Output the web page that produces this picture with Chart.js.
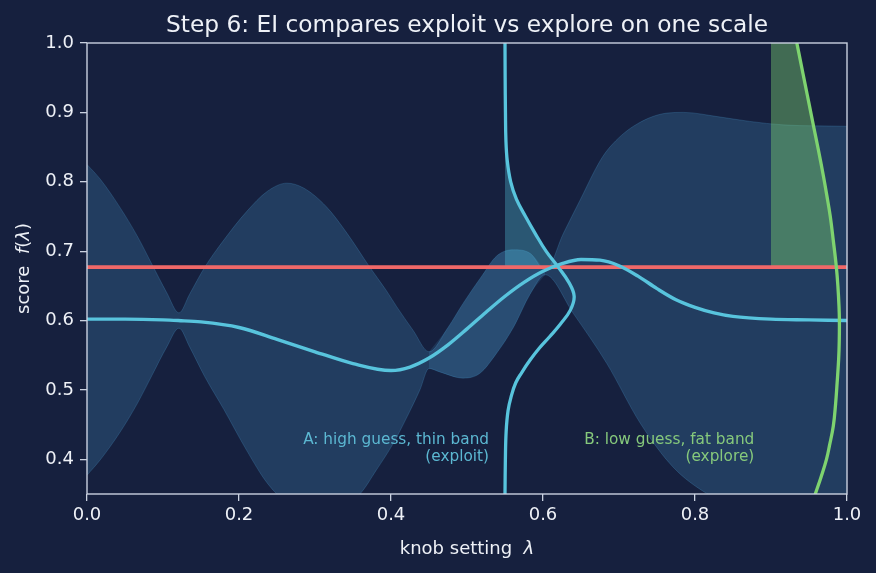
<!DOCTYPE html>
<html>
<head>
<meta charset="utf-8">
<script src="https://cdn.jsdelivr.net/npm/chart.js@4/dist/chart.umd.min.js"></script>
<style>
  html, body { margin: 0; padding: 0; background: #16203e; }
  #wrap { width: 876px; height: 573px; }
</style>
</head>
<body>
<div id="wrap"><canvas id="chart" width="876" height="573"></canvas></div>
<script>
// values
const xTicks = [0, 0.2, 0.4, 0.6, 0.8, 1.0];
const yTicks = [0.4, 0.5, 0.6, 0.7, 0.8, 0.9, 1.0];

const meanX = [0, 0.05, 0.10, 0.12, 0.15, 0.20, 0.25, 0.30, 0.35, 0.40, 0.425, 0.45, 0.475, 0.50, 0.525, 0.55, 0.575, 0.60, 0.625, 0.65, 0.675, 0.70, 0.725, 0.75, 0.775, 0.80, 0.825, 0.85, 0.90, 0.95, 1.0];
const meanY = [0.602, 0.602, 0.601, 0.600, 0.598, 0.590, 0.573, 0.555, 0.538, 0.528, 0.533, 0.546, 0.565, 0.588, 0.612, 0.635, 0.655, 0.671, 0.682, 0.688, 0.687, 0.679, 0.664, 0.646, 0.630, 0.619, 0.611, 0.606, 0.602, 0.601, 0.600];

const upperX = [0, 0.018, 0.044, 0.066, 0.0855, 0.105, 0.121, 0.135, 0.155, 0.18, 0.21, 0.237, 0.263, 0.285, 0.315, 0.342, 0.372, 0.394, 0.4075, 0.429, 0.45, 0.475, 0.495, 0.52, 0.539, 0.561, 0.583, 0.603, 0.627, 0.649, 0.675, 0.688, 0.719, 0.763, 0.785, 0.829, 0.872, 0.916, 1.0];
const upperY = [0.825, 0.803, 0.762, 0.722, 0.681, 0.640, 0.611, 0.638, 0.677, 0.716, 0.757, 0.786, 0.798, 0.791, 0.764, 0.726, 0.677, 0.643, 0.62, 0.586, 0.555, 0.59, 0.625, 0.665, 0.693, 0.702, 0.697, 0.672, 0.726, 0.774, 0.83, 0.85, 0.88, 0.899, 0.90, 0.894, 0.887, 0.882, 0.880];

const lowerX = [0, 0.018, 0.044, 0.066, 0.0855, 0.105, 0.121, 0.135, 0.155, 0.18, 0.21, 0.237, 0.263, 0.3, 0.33, 0.359, 0.381, 0.403, 0.421, 0.438, 0.45, 0.464, 0.495, 0.517, 0.539, 0.561, 0.583, 0.603, 0.64, 0.684, 0.728, 0.771, 0.815, 0.85, 0.9, 0.95, 1.0];
const lowerY = [0.377, 0.40, 0.440, 0.480, 0.521, 0.562, 0.589, 0.562, 0.519, 0.472, 0.413, 0.366, 0.338, 0.325, 0.33, 0.35, 0.385, 0.423, 0.461, 0.50, 0.531, 0.526, 0.517, 0.524, 0.553, 0.59, 0.638, 0.666, 0.61, 0.538, 0.452, 0.389, 0.351, 0.333, 0.322, 0.32, 0.32];

// the thin-band stretch around candidate A is shaded a bit lighter
const thinFrom = 0.45, thinTo = 0.603;

const threshold = 0.677;

// candidate A: narrow bell standing on x = 0.55
const aBase = 0.55;
const aX = [0.5500, 0.5502, 0.5506, 0.5512, 0.5530, 0.5575, 0.5650, 0.5770, 0.5900, 0.6040, 0.6200, 0.6340, 0.6410, 0.6360, 0.6230, 0.6090, 0.5950, 0.5830, 0.5720, 0.5640, 0.5580, 0.5540, 0.5515, 0.5505, 0.5500];
const aY = [1.000, 0.950, 0.900, 0.860, 0.830, 0.800, 0.775, 0.750, 0.725, 0.700, 0.677, 0.655, 0.635, 0.615, 0.595, 0.577, 0.560, 0.543, 0.525, 0.510, 0.490, 0.470, 0.440, 0.400, 0.350];

// candidate B: wide bell standing on x = 0.9
const bBase = 0.9;
const bX = [0.9340, 0.9395, 0.9450, 0.9505, 0.9560, 0.9625, 0.9690, 0.9735, 0.9780, 0.9820, 0.9860, 0.9880, 0.9895, 0.9900, 0.9898, 0.9890, 0.9870, 0.9850, 0.9820, 0.9770, 0.9730, 0.9660, 0.9580];
const bY = [1.000, 0.970, 0.940, 0.910, 0.880, 0.845, 0.808, 0.780, 0.750, 0.715, 0.677, 0.650, 0.620, 0.600, 0.570, 0.544, 0.510, 0.480, 0.448, 0.420, 0.400, 0.375, 0.349];

const FONT = '"DejaVu Sans", sans-serif';
const BG = '#16203e';
const SPINE = '#c9d1e0';
const TXT = '#eef1f7';
const CYAN = '#58c4dd';
const GREEN = '#7ed36f';
const RED = '#f06868';
const BAND = 'rgba(86,180,233,0.2)';

const pts = (xs, ys) => xs.map((x, i) => ({x: x, y: ys[i]}));
const within = (xs, ys, lo, hi) => pts(xs, ys).filter(p => p.x >= lo && p.x <= hi);
const above = (xs, ys) => pts(xs, ys).filter(p => p.y >= threshold);

const notes = [
  {lines: ['A: high guess, thin band', '(exploit)'], x: 0.529, y: 0.4227, color: '#5cb8d2'},
  {lines: ['B: low guess, fat band', '(explore)'], x: 0.878, y: 0.4227, color: '#86c97c'}
];

function runs(ctx, parts, cx, cy) {
  let w = 0;
  parts.forEach(p => { ctx.font = p[1]; w += ctx.measureText(p[0]).width; });
  let x = cx - w / 2;
  ctx.textAlign = 'left';
  parts.forEach(p => { ctx.font = p[1]; ctx.fillText(p[0], x, cy); x += ctx.measureText(p[0]).width; });
}

const decor = {
  id: 'decor',
  beforeDraw(chart) {
    const ctx = chart.ctx;
    ctx.save();
    ctx.fillStyle = BG;
    ctx.fillRect(0, 0, chart.width, chart.height);
    ctx.restore();
  },
  afterDatasetsDraw(chart) {
    const {ctx, scales: {x, y}} = chart;
    ctx.save();
    ctx.font = '15.3px ' + FONT;
    ctx.textAlign = 'right';
    ctx.textBaseline = 'alphabetic';
    notes.forEach(n => {
      ctx.fillStyle = n.color;
      n.lines.forEach((t, i) => ctx.fillText(t, x.getPixelForValue(n.x), y.getPixelForValue(n.y) + i * 17.5));
    });
    ctx.restore();
  },
  afterDraw(chart) {
    const {ctx, chartArea: a} = chart;
    ctx.save();
    ctx.strokeStyle = SPINE;
    ctx.lineWidth = 1.4;
    ctx.strokeRect(a.left, a.top, a.right - a.left, a.bottom - a.top);

    ctx.fillStyle = TXT;
    ctx.textBaseline = 'alphabetic';
    const cx = (a.left + a.right) / 2;
    ctx.font = '23.3px ' + FONT;
    ctx.textAlign = 'center';
    ctx.fillText('Step 6: EI compares exploit vs explore on one scale', cx, 32);

    const up = '18px ' + FONT, it = 'italic 18px ' + FONT;
    runs(ctx, [['knob setting  ', up], ['λ', it]], cx, 554);

    ctx.translate(29, (a.top + a.bottom) / 2);
    ctx.rotate(-Math.PI / 2);
    runs(ctx, [['score  ', up], ['f', it], ['(', up], ['λ', it], [')', up]], 0, 0);
    ctx.restore();
  }
};

const curve = {pointRadius: 0, pointHoverRadius: 0, cubicInterpolationMode: 'monotone'};
const bell = {pointRadius: 0, pointHoverRadius: 0, tension: 0.4, indexAxis: 'y'};

new Chart(document.getElementById('chart'), {
  type: 'line',
  data: {
    datasets: [
      Object.assign({data: pts(upperX, upperY), borderColor: BAND, borderWidth: 1, backgroundColor: BAND, fill: '+1', order: 10}, curve),
      Object.assign({data: pts(lowerX, lowerY), borderColor: BAND, borderWidth: 1, fill: false, order: 10}, curve),
      Object.assign({data: within(upperX, upperY, thinFrom, thinTo), borderWidth: 0, backgroundColor: 'rgba(86,180,233,0.14)', fill: '+1', order: 9}, curve),
      Object.assign({data: within(lowerX, lowerY, thinFrom, thinTo), borderWidth: 0, fill: false, order: 9}, curve),
      Object.assign({data: above(aX, aY), borderWidth: 0, backgroundColor: 'rgba(86,200,224,0.33)', fill: {value: aBase}, order: 8}, bell),
      Object.assign({data: above(bX, bY), borderWidth: 0, backgroundColor: 'rgba(126,211,112,0.42)', fill: {value: bBase}, order: 8}, bell),
      {data: [{x: 0, y: threshold}, {x: 1, y: threshold}], borderColor: RED, borderWidth: 3.6, pointRadius: 0, fill: false, order: 5},
      Object.assign({data: pts(meanX, meanY), borderColor: CYAN, borderWidth: 3.4, fill: false, order: 4}, curve),
      Object.assign({data: pts(aX, aY), borderColor: CYAN, borderWidth: 3.3, fill: false, order: 3}, bell),
      Object.assign({data: pts(bX, bY), borderColor: GREEN, borderWidth: 3.3, fill: false, order: 2}, bell)
    ]
  },
  options: {
    responsive: false,
    animation: false,
    devicePixelRatio: 1,
    layout: {padding: {top: 43, right: 29, bottom: 0, left: 0}},
    plugins: {legend: {display: false}, tooltip: {enabled: false}, title: {display: false}},
    scales: {
      x: {
        type: 'linear', min: 0, max: 1,
        afterBuildTicks: s => { s.ticks = xTicks.map(v => ({value: v})); },
        afterFit: s => { s.height = 79; },
        border: {display: false},
        grid: {drawOnChartArea: false, drawTicks: true, tickLength: 7, color: SPINE, lineWidth: 1.3},
        ticks: {color: TXT, font: {family: FONT, size: 18}, padding: 4, autoSkip: false, maxRotation: 0,
                callback: v => v.toFixed(1)}
      },
      y: {
        type: 'linear', min: 0.35, max: 1.0,
        afterBuildTicks: s => { s.ticks = yTicks.map(v => ({value: v})); },
        afterFit: s => { s.width = 87; },
        border: {display: false},
        grid: {drawOnChartArea: false, drawTicks: true, tickLength: 7, color: SPINE, lineWidth: 1.3},
        ticks: {color: TXT, font: {family: FONT, size: 18}, padding: 6, autoSkip: false,
                callback: v => v.toFixed(1)}
      }
    }
  },
  plugins: [decor]
});
</script>
</body>
</html>
